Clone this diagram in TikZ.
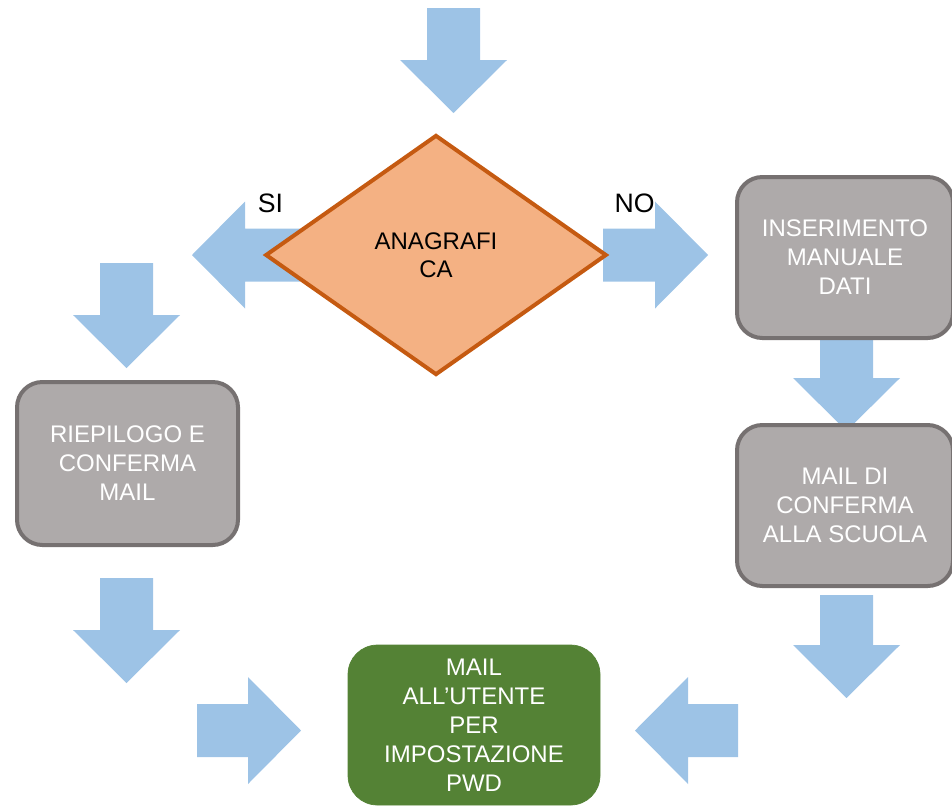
\documentclass[tikz,border=0pt]{standalone}
\usepackage{fontspec}
\setmainfont{Liberation Sans}
\usetikzlibrary{shapes,positioning,calc}

\definecolor{arrowblue}{HTML}{9DC3E6}
\definecolor{boxgrey}{HTML}{AEAAAA}
\definecolor{boxline}{HTML}{767171}
\definecolor{anagfill}{HTML}{F4B183}
\definecolor{anagline}{HTML}{C55A11}
\definecolor{pwdgreen}{HTML}{548235}

\tikzset{
  greybox/.style={draw=boxline, fill=boxgrey, line width=3pt, rounded corners=19pt,
    text=white, align=center, inner sep=0pt, font=\fontsize{18}{21.75}\selectfont},
  pics/barrow/.style={code={
    \fill[arrowblue] (0,-26.5) -- (#1,-26.5) -- (#1,-53.5) -- ++(53,53.5)
      -- (#1,53.5) -- (#1,26.5) -- (0,26.5) -- cycle;}}
}

\begin{document}
\begin{tikzpicture}[x=0.75pt, y=-0.75pt]
  \useasboundingbox (0,0) rectangle (952,807);

  % Block arrows (drawn first, boxes sit on top)
  \pic[rotate=-90] at (453.5,8) {barrow=52};     % into the decision
  \pic[rotate=180] at (300,255) {barrow=55};     % SI branch
  \pic at (603,255) {barrow=52};                 % NO branch
  \pic[rotate=-90] at (126.5,263) {barrow=52};
  \pic[rotate=-90] at (126.5,578) {barrow=52};
  \pic[rotate=-90] at (846.5,338) {barrow=40};
  \pic[rotate=-90] at (846.5,595) {barrow=50};
  \pic at (197,730.5) {barrow=51};
  \pic[rotate=180] at (738,730.5) {barrow=50};

  % Decision
  \node[diamond, draw=anagline, fill=anagfill, line width=3pt, inner sep=0pt,
    minimum width=256pt, minimum height=180pt, align=center,
    font=\fontsize{18}{21}\selectfont] (anag) at (436,255) {ANAGRAFI\\CA};
  \node[font=\fontsize{20}{24}\selectfont] (si) at (270.5,203) {SI};
  \node[font=\fontsize{20}{24}\selectfont] (no) at (634.5,203) {NO};

  % Grey steps
  \node[greybox, minimum width=165.75pt, minimum height=122.25pt] (riep) at (127.5,463.5)
    {RIEPILOGO E\\CONFERMA\\MAIL};
  \node[greybox, minimum width=162pt, minimum height=120.75pt] (ins) at (845,257.5)
    {INSERIMENTO\\MANUALE\\DATI};
  \node[greybox, minimum width=162pt, minimum height=120.75pt] (conf) at (845,505.5)
    {MAIL DI\\CONFERMA\\ALLA SCUOLA};

  % Final step
  \node[greybox, draw=pwdgreen, fill=pwdgreen, line width=0.5pt, rounded corners=22pt,
    minimum width=189pt, minimum height=120pt] (pwd) at (474,725)
    {MAIL\\ALL’UTENTE\\PER\\IMPOSTAZIONE\\PWD};
\end{tikzpicture}
\end{document}
